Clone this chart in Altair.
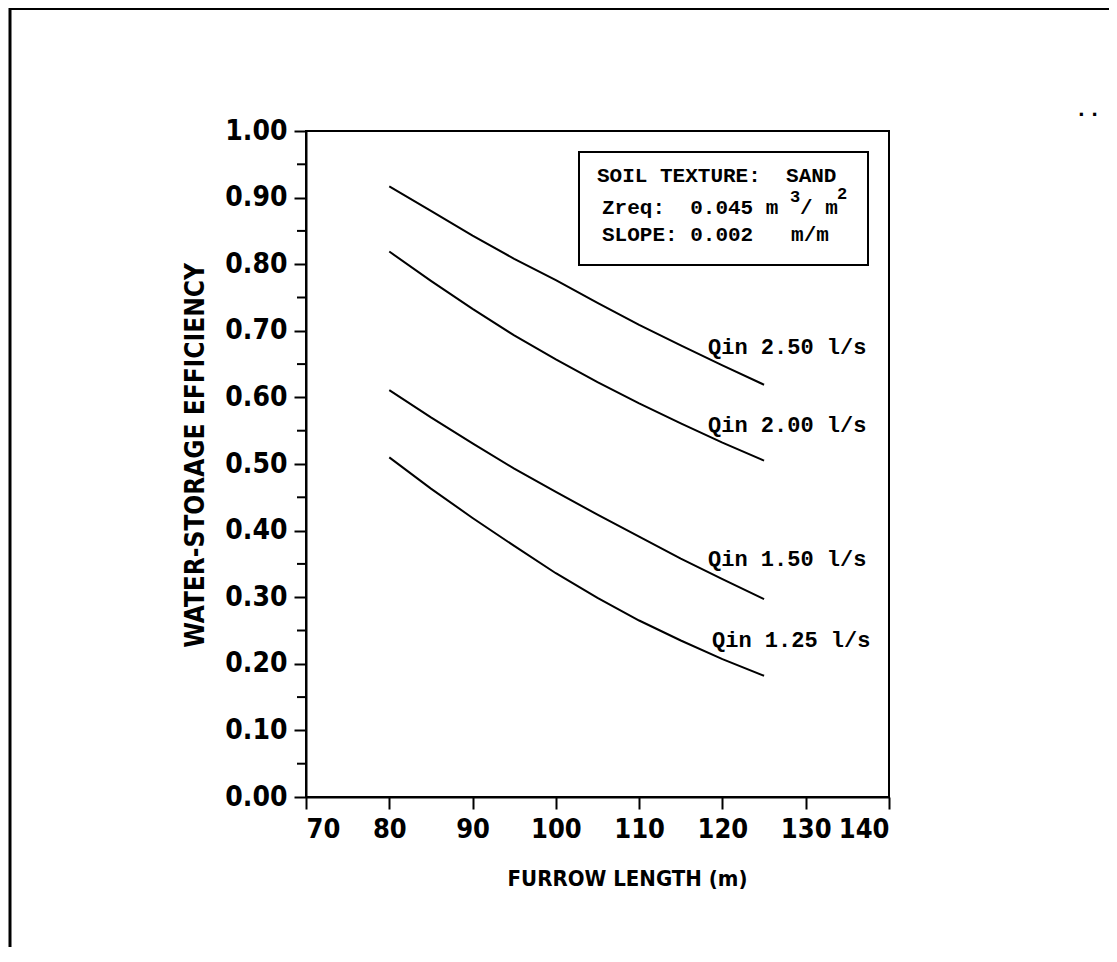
import altair as alt
import pandas as pd

# ---- data ----
length_m = [80, 85, 90, 95, 100, 105, 110, 115, 120, 125]
eff_q250 = [0.917, 0.880, 0.843, 0.808, 0.776, 0.742, 0.709, 0.678, 0.648, 0.619]
eff_q200 = [0.819, 0.775, 0.733, 0.693, 0.657, 0.623, 0.591, 0.561, 0.532, 0.505]
eff_q150 = [0.611, 0.570, 0.531, 0.493, 0.458, 0.424, 0.391, 0.358, 0.327, 0.297]
eff_q125 = [0.510, 0.463, 0.419, 0.377, 0.336, 0.299, 0.265, 0.235, 0.207, 0.182]
series_names = ["Qin 2.50 l/s", "Qin 2.00 l/s", "Qin 1.50 l/s", "Qin 1.25 l/s"]
x_ticks = [70, 80, 90, 100, 110, 120, 130, 140]
y_major = [0.0, 0.1, 0.2, 0.3, 0.4, 0.5, 0.6, 0.7, 0.8, 0.9, 1.0]
y_minor = [0.05, 0.15, 0.25, 0.35, 0.45, 0.55, 0.65, 0.75, 0.85, 0.95]
NB = "\u00a0"
box_lines = ["SOIL TEXTURE:" + NB + " SAND", "Zreq:" + NB + " 0.045 m",
             "SLOPE: 0.002" + NB + NB + " m/m"]

rows = []
for name, vals in zip(series_names, [eff_q250, eff_q200, eff_q150, eff_q125]):
    for x, y in zip(length_m, vals):
        rows.append({"series": name, "length": x, "eff": y})
df = pd.DataFrame(rows)

W, H = 583, 666
PAD_L, PAD_T, PAD_R, PAD_B = 298, 123, 220, 150
NARROW = "Liberation Sans Narrow, DejaVu Sans Condensed, sans-serif"
MONO = "Liberation Mono, DejaVu Sans Mono, monospace"

xs = alt.Scale(domain=[70, 140], nice=False, zero=False)
ys = alt.Scale(domain=[0, 1], nice=False, zero=False)

lines = alt.Chart(df).mark_line(color="black", strokeWidth=2).encode(
    x=alt.X("length:Q", scale=xs, axis=alt.Axis(
        values=x_ticks, format="d", title="FURROW LENGTH (m)",
        tickSize=12, labelPadding=7, labelFontSize=27, labelOverlap=False,
        titleFontSize=22,
        titleX=321, titleY=81, titleAlign="center", titleBaseline="middle")),
    y=alt.Y("eff:Q", scale=ys, axis=alt.Axis(
        values=y_major, format=".2f", title="WATER-STORAGE EFFICIENCY",
        orient="left", tickSize=12, labelPadding=7, labelFontSize=28,
        labelOverlap=False, titleFontSize=26,
        titleX=-111, titleY=324, titleAngle=270,
        titleAlign="center", titleBaseline="middle")),
    detail="series:N",
)

minor = alt.Chart(pd.DataFrame({"v": y_minor})).mark_rule(
    color="black", strokeWidth=2).encode(
    y=alt.Y("v:Q", scale=ys, axis=alt.Axis(
        orient="left", labels=False, ticks=False, domain=False, title=None)),
    x=alt.value(-9), x2=alt.value(0),
)

one = pd.DataFrame({"a": [0]})

box = alt.Chart(one).mark_rect(fill="white", stroke="black", strokeWidth=2).encode(
    x=alt.value(273), x2=alt.value(562), y=alt.value(21), y2=alt.value(134))

def txt(s, x, y, size=21, font=MONO, align="left"):
    return alt.Chart(pd.DataFrame({"t": [s]})).mark_text(
        font=font, fontSize=size, fontWeight="bold", align=align,
        baseline="middle", color="black").encode(
        text="t:N", x=alt.value(x), y=alt.value(y))

texts = [
    txt(box_lines[0], 291, 45),
    txt(box_lines[1], 296, 77),
    txt("3", 484, 66, size=17),
    txt("/ m", 494, 77),
    txt("2", 531, 63, size=17),
    txt(box_lines[2], 296, 104),
    txt(series_names[0], 402, 216, size=22),
    txt(series_names[1], 402, 294, size=22),
    txt(series_names[2], 402, 428, size=22),
    txt(series_names[3], 406, 509, size=22),
    txt("..", 782, -22, size=22, align="center"),
]

frame_left = alt.Chart(one).mark_rule(color="black", strokeWidth=3).encode(
    x=alt.value(-296), y=alt.value(-125), y2=alt.value(H + PAD_B))
frame_top = alt.Chart(one).mark_rule(color="black", strokeWidth=3).encode(
    y=alt.value(-122.5), x=alt.value(-297), x2=alt.value(W + PAD_R))

chart = alt.layer(lines, minor, box, *texts, frame_left, frame_top).resolve_axis(
    y="independent"
).properties(
    width=W, height=H,
    autosize=alt.AutoSizeParams(type="none"),
    padding={"left": PAD_L, "top": PAD_T, "right": PAD_R, "bottom": PAD_B},
    background="white",
).configure_view(stroke="black", strokeWidth=2).configure_axis(
    grid=False, domainColor="black", domainWidth=2, tickColor="black",
    tickWidth=2, labelColor="black", titleColor="black",
    labelFont=NARROW, labelFontWeight="bold", titleFont=NARROW,
    titleFontWeight="bold",
)

chart.save("out.html", embed_options={"renderer": "svg", "actions": False})
